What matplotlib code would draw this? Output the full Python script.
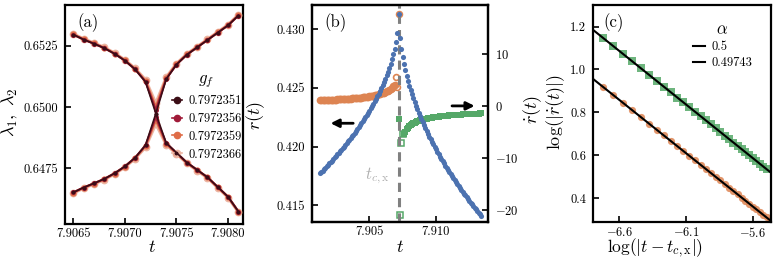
import numpy as np
import matplotlib
matplotlib.use("Agg")
import matplotlib.pyplot as plt
from matplotlib.lines import Line2D

plt.rcParams['font.family'] = 'serif'
plt.rcParams['font.serif'] = ['cmr10']
plt.rcParams['mathtext.fontset'] = 'cm'
plt.rcParams['axes.formatter.use_mathtext'] = True
plt.rcParams['axes.linewidth'] = 1.6
plt.rcParams['xtick.direction'] = 'in'
plt.rcParams['ytick.direction'] = 'in'
plt.rcParams['xtick.major.width'] = 1.2
plt.rcParams['ytick.major.width'] = 1.2
plt.rcParams['xtick.major.size'] = 4.5
plt.rcParams['ytick.major.size'] = 4.5
plt.rcParams['xtick.major.pad'] = 3
plt.rcParams['ytick.major.pad'] = 5
plt.rcParams['xtick.labelsize'] = 9
plt.rcParams['ytick.labelsize'] = 9

# ---------------- panel (a): eigenvalues near the crossing ----------------
t_a = [7.9065, 7.9066, 7.9067, 7.9068, 7.9069, 7.9070, 7.9071, 7.9072, 7.9073,
       7.9074, 7.9075, 7.9076, 7.9077, 7.9078, 7.9079, 7.9080, 7.9081]
g_labels = ['0.7972351', '0.7972356', '0.7972359', '0.7972366']
g_colors = ['#3b0d16', '#a01a38', '#df6d48', '#ecb5a3']

up_1 = [0.65296, 0.65276, 0.65259, 0.65241, 0.65218, 0.65190, 0.65154, 0.65103, 0.64974,
        0.65114, 0.65174, 0.65214, 0.65244, 0.65274, 0.65304, 0.65334, 0.65374]
lo_1 = [0.64652, 0.64672, 0.64689, 0.64707, 0.64730, 0.64758, 0.64794, 0.64845, 0.64974,
        0.64854, 0.64814, 0.64774, 0.64744, 0.64714, 0.64674, 0.64634, 0.64574]
up_2 = [0.65296, 0.65276, 0.65259, 0.65241, 0.65218, 0.65190, 0.65154, 0.65104, 0.64988,
        0.65115, 0.65174, 0.65214, 0.65244, 0.65274, 0.65304, 0.65334, 0.65374]
lo_2 = [0.64652, 0.64672, 0.64689, 0.64707, 0.64730, 0.64758, 0.64794, 0.64844, 0.64960,
        0.64853, 0.64814, 0.64774, 0.64744, 0.64714, 0.64674, 0.64634, 0.64574]
up_3 = [0.65297, 0.65277, 0.65260, 0.65242, 0.65219, 0.65191, 0.65155, 0.65107, 0.65000,
        0.65118, 0.65176, 0.65215, 0.65245, 0.65275, 0.65305, 0.65335, 0.65375]
lo_3 = [0.64651, 0.64671, 0.64688, 0.64706, 0.64729, 0.64757, 0.64793, 0.64841, 0.64948,
        0.64850, 0.64812, 0.64773, 0.64743, 0.64713, 0.64673, 0.64633, 0.64573]
up_4 = [0.65299, 0.65279, 0.65262, 0.65244, 0.65221, 0.65193, 0.65158, 0.65112, 0.65016,
        0.65122, 0.65178, 0.65217, 0.65247, 0.65277, 0.65307, 0.65337, 0.65377]
lo_4 = [0.64649, 0.64669, 0.64686, 0.64704, 0.64727, 0.64755, 0.64790, 0.64836, 0.64932,
        0.64846, 0.64810, 0.64771, 0.64741, 0.64711, 0.64671, 0.64631, 0.64571]
branches = [(up_1, lo_1), (up_2, lo_2), (up_3, lo_3), (up_4, lo_4)]

# ---------------- panel (b): r(t) and its derivative ----------------
t_c = 7.9072
t_left = np.round(np.linspace(7.9013, 7.9071, 59), 4)
t_right = np.round(np.linspace(7.9073, 7.9134, 62), 4)

r_left = [0.41773, 0.41784, 0.41796, 0.41808, 0.41820, 0.41832, 0.41844, 0.41856, 0.41869, 0.41881,
          0.41894, 0.41907, 0.41920, 0.41933, 0.41946, 0.41959, 0.41973, 0.41986, 0.42000, 0.42014,
          0.42028, 0.42043, 0.42057, 0.42072, 0.42087, 0.42102, 0.42118, 0.42133, 0.42149, 0.42165,
          0.42181, 0.42198, 0.42215, 0.42232, 0.42250, 0.42268, 0.42286, 0.42305, 0.42324, 0.42344,
          0.42364, 0.42385, 0.42406, 0.42428, 0.42451, 0.42474, 0.42498, 0.42523, 0.42550, 0.42577,
          0.42606, 0.42637, 0.42669, 0.42704, 0.42742, 0.42784, 0.42832, 0.42888, 0.42962]
r_peak = 0.4313
r_right = [0.42920, 0.42829, 0.42759, 0.42700, 0.42648, 0.42601, 0.42558, 0.42518, 0.42480, 0.42444,
           0.42410, 0.42378, 0.42347, 0.42317, 0.42288, 0.42260, 0.42233, 0.42207, 0.42181, 0.42156,
           0.42132, 0.42108, 0.42085, 0.42062, 0.42040, 0.42018, 0.41997, 0.41976, 0.41955, 0.41935,
           0.41915, 0.41895, 0.41876, 0.41857, 0.41838, 0.41820, 0.41802, 0.41784, 0.41766, 0.41749,
           0.41731, 0.41714, 0.41697, 0.41681, 0.41664, 0.41648, 0.41632, 0.41616, 0.41600, 0.41584,
           0.41569, 0.41554, 0.41538, 0.41523, 0.41508, 0.41494, 0.41479, 0.41465, 0.41450, 0.41436,
           0.41422, 0.41408]

# derivative before t_c (filled up to 7.9069, open near t_c)
dr_left = [1.152, 1.162, 1.172, 1.183, 1.193, 1.204, 1.216, 1.227, 1.239, 1.252,
           1.264, 1.277, 1.291, 1.305, 1.319, 1.334, 1.350, 1.366, 1.382, 1.399,
           1.417, 1.436, 1.455, 1.475, 1.496, 1.518, 1.541, 1.564, 1.590, 1.616,
           1.643, 1.672, 1.703, 1.736, 1.770, 1.807, 1.845, 1.887, 1.931, 1.979,
           2.030, 2.086, 2.146, 2.213, 2.285, 2.365, 2.455, 2.555, 2.640, 2.750,
           2.870, 3.010, 3.170, 3.350, 3.560, 3.820, 4.100]
t_dr_left_open = [7.9070, 7.9071, 7.9072]
dr_left_open = [5.67, 3.7, 17.7]
# derivative after t_c
t_dr_right_open = [7.9073, 7.9074, 7.9075]
dr_right_open = [-20.9, -7.0, -5.4]
dr_at_tc = -2.4
dr_right = [-5.30, -4.888, -4.462, -4.131, -3.864, -3.643, -3.456, -3.296, -3.155, -3.031,
            -2.921, -2.822, -2.733, -2.651, -2.576, -2.508, -2.444, -2.385, -2.330, -2.279,
            -2.231, -2.186, -2.144, -2.103, -2.066, -2.030, -1.996, -1.963, -1.932, -1.903,
            -1.874, -1.848, -1.822, -1.797, -1.773, -1.750, -1.728, -1.707, -1.687, -1.667,
            -1.648, -1.629, -1.612, -1.594, -1.578, -1.561, -1.546, -1.531, -1.516, -1.501,
            -1.487, -1.474, -1.461, -1.448, -1.435, -1.423, -1.411, -1.399, -1.388]

# ---------------- panel (c): log-log scaling ----------------
log_dt_green = [-6.7254, -6.6454, -6.5712, -6.5022, -6.4377, -6.3771, -6.3199, -6.2659, -6.2146, -6.1658,
                -6.1193, -6.0748, -6.0322, -5.9914, -5.9522, -5.9145, -5.8781, -5.8430, -5.8091, -5.7763,
                -5.7446, -5.7138, -5.6839, -5.6550, -5.6268, -5.5994, -5.5727, -5.5467, -5.5214, -5.4967]
log_dr_green = [1.149, 1.109, 1.072, 1.038, 1.005, 0.975, 0.946, 0.919, 0.894, 0.869,
                0.846, 0.824, 0.803, 0.782, 0.763, 0.744, 0.726, 0.708, 0.691, 0.675,
                0.659, 0.643, 0.628, 0.614, 0.600, 0.586, 0.573, 0.560, 0.547, 0.535]
log_dt_orange = [-6.7254, -6.6454, -6.5712, -6.5022, -6.4377, -6.3771, -6.3199, -6.2659, -6.2146, -6.1658,
                 -6.1193, -6.0748, -6.0322, -5.9914, -5.9522, -5.9145, -5.8781, -5.8430, -5.8091, -5.7763,
                 -5.7446, -5.7138, -5.6839, -5.6550, -5.6268, -5.5994, -5.5727, -5.5467, -5.5214, -5.4967,
                 -5.4726]
log_dr_orange = [0.920, 0.881, 0.844, 0.809, 0.777, 0.747, 0.719, 0.692, 0.666, 0.642,
                 0.619, 0.597, 0.576, 0.555, 0.536, 0.517, 0.499, 0.482, 0.465, 0.448,
                 0.433, 0.417, 0.402, 0.388, 0.374, 0.360, 0.347, 0.334, 0.322, 0.309,
                 0.297]
alphas = [0.5, 0.49743]
intercepts = [-2.2135, -2.425]

blue, orange, green = '#4c72b0', '#dd8452', '#55a868'

fig = plt.figure(figsize=(7.77, 2.59), dpi=100)
ax_a = fig.add_axes([0.0837, 0.1351, 0.2291, 0.8456])
ax_b = fig.add_axes([0.4015, 0.1429, 0.2265, 0.8378])
ax_c = fig.add_axes([0.7632, 0.1429, 0.2291, 0.8378])

# ---- (a)
sizes = [2.8, 3.6, 4.4, 5.6]
widths = [1.2, 1.5, 1.8, 2.2]
for i in [3, 2, 1, 0]:
    up, lo = branches[i]
    for y in (up, lo):
        ax_a.plot(t_a, y, '-o', color=g_colors[i], ms=sizes[i], lw=widths[i], mew=0,
                  zorder=3 + (3 - i))
handles = [Line2D([], [], color=c, marker='o', ms=4.5, lw=1.2) for c in g_colors]
ax_a.legend(handles, g_labels, title='$g_f$', loc='upper left', bbox_to_anchor=(0.565, 0.73),
            frameon=False, fontsize=9, title_fontsize=12, handlelength=0.8, handletextpad=0.5,
            labelspacing=0.45, borderpad=0)
ax_a.set_xlim(7.90642, 7.908145)
ax_a.set_ylim(0.64523, 0.65417)
ax_a.set_xticks([7.9065, 7.9070, 7.9075, 7.9080], ['7.9065', '7.9070', '7.9075', '7.9080'])
ax_a.set_yticks([0.6475, 0.6500, 0.6525], ['0.6475', '0.6500', '0.6525'])
ax_a.set_xlabel('$t$', fontsize=13)
ax_a.set_ylabel(r'$\lambda_1,\ \lambda_2$', fontsize=13)
ax_a.xaxis.set_label_coords(0.49, -0.07)
ax_a.yaxis.set_label_coords(-0.255, 0.51)
ax_a.text(0.07, 0.92, '(a)', transform=ax_a.transAxes, fontsize=12, va='center')

# ---- (b)
ax_b2 = ax_b.twinx()
ax_b.set_zorder(ax_b2.get_zorder() + 1)
ax_b.patch.set_visible(False)

ax_b2.plot(t_left[:-2], dr_left, 'o', color=orange, ms=5.5, mew=0)
ax_b2.plot(t_dr_left_open, dr_left_open, 'o', mfc='none', mec=orange, ms=4.2, mew=1.2)
ax_b2.plot(t_right[3:], dr_right, 's', color=green, ms=5, mew=0)
ax_b2.plot([t_c], [dr_at_tc], 's', color=green, ms=4.5, mew=0)
ax_b2.plot(t_dr_right_open, dr_right_open, 's', mfc='none', mec=green, ms=3.8, mew=1.1)

ax_b.plot(t_left, r_left, 'o', color=blue, ms=3.7, mew=0)
ax_b.plot([t_c], [r_peak], 'o', color=blue, ms=3.7, mew=0)
ax_b.plot(t_right, r_right, 'o', color=blue, ms=3.7, mew=0)
ax_b.axvline(t_c, color='#808080', ls='--', lw=2.2, dashes=(3, 2), zorder=1)

ax_b.set_xlim(7.9007, 7.9139)
ax_b.set_ylim(0.41358, 0.43204)
ax_b2.set_ylim(-22.3, 19.5)
ax_b.set_xticks([7.905, 7.910], ['7.905', '7.910'])
ax_b.set_yticks([0.415, 0.420, 0.425, 0.430], ['0.415', '0.420', '0.425', '0.430'])
ax_b2.set_yticks([-20, -10, 0, 10], ['$-20$', '$-10$', '$0$', '$10$'])
ax_b.set_xlabel('$t$', fontsize=13)
ax_b.set_ylabel('$r(t)$', fontsize=13)
ax_b2.set_ylabel(r'$\dot{r}(t)$', fontsize=13)
ax_b.xaxis.set_label_coords(0.5, -0.078)
ax_b.yaxis.set_label_coords(-0.256, 0.49)
ax_b2.yaxis.set_label_coords(1.19, 0.516)
ax_b.text(0.07, 0.92, '(b)', transform=ax_b.transAxes, fontsize=12, va='center')
ax_b.text(0.37, 0.215, r'$t_{c,\mathrm{x}}$', transform=ax_b.transAxes, fontsize=12,
          color='#b0b0b0', ha='center', va='center')
ax_b.annotate('', xy=(0.09, 0.455), xytext=(0.25, 0.455), xycoords='axes fraction',
              arrowprops=dict(arrowstyle='-|>', lw=2, color='k', mutation_scale=12))
ax_b.annotate('', xy=(0.94, 0.535), xytext=(0.78, 0.535), xycoords='axes fraction',
              arrowprops=dict(arrowstyle='-|>', lw=2, color='k', mutation_scale=12))

# ---- (c)
ax_c.plot(log_dt_green, log_dr_green, 's', color=green, ms=5.2, mew=0, alpha=0.85)
ax_c.plot(log_dt_orange, log_dr_orange, 'o', color=orange, ms=5.2, mew=0, alpha=0.85)
for a, b in zip(alphas, intercepts):
    ax_c.axline((0, b), slope=-a, color='k', lw=1.5, label=str(a), zorder=4)
ax_c.legend(title=r'$\alpha$', loc='upper right', bbox_to_anchor=(0.93, 0.95), frameon=False,
            fontsize=9, title_fontsize=12, handlelength=1.0, handletextpad=0.5,
            labelspacing=0.3, borderpad=0)
ax_c.set_xlim(-6.797, -5.463)
ax_c.set_ylim(0.288, 1.301)
ax_c.set_xticks([-6.6, -6.1, -5.6], ['$-6.6$', '$-6.1$', '$-5.6$'])
ax_c.set_yticks([0.4, 0.6, 0.8, 1.0, 1.2], ['0.4', '0.6', '0.8', '1.0', '1.2'])
ax_c.set_xlabel(r'$\log(|t - t_{c,\mathrm{x}}|)$', fontsize=12.5)
ax_c.set_ylabel(r'$\log(|\dot{r}(t)|)$', fontsize=13)
ax_c.xaxis.set_label_coords(0.348, -0.068)
ax_c.yaxis.set_label_coords(-0.146, 0.507)
ax_c.text(0.06, 0.92, '(c)', transform=ax_c.transAxes, fontsize=12, va='center')

fig.savefig('out.png', dpi=100)
